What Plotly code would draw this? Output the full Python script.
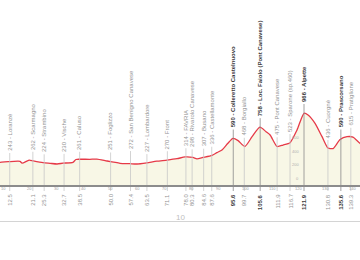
import plotly.graph_objects as go

# ---- data ----
profile_km = [5, 8.9, 11.9, 16.3, 17.1, 19.7, 21.2, 24.9, 27.5, 30.1, 32.3, 36.0, 37.1, 38.3,
              42.3, 44.9, 48.7, 52.4, 53.5, 57.2, 59.8, 63.5, 67.2, 71.0, 74.7, 77.7, 80.6,
              82.1, 84.3, 87.7, 89.5, 91.4, 93.6, 95.5, 97.4, 99.9, 102.6, 105.5, 107.8,
              109.3, 111.9, 114.1, 116.7, 119.3, 121.9, 123.4, 126.0, 128.6, 130.8, 132.7,
              135.3, 137.9, 140.1, 142.7, 146]
profile_elev = [240, 239, 248, 254, 226, 272, 260, 234, 224, 214, 226, 239, 280, 284,
                283, 286, 258, 233, 224, 218, 214, 232, 256, 272, 292, 318, 310,
                290, 310, 342, 381, 420, 519, 592, 558, 472, 617, 757, 690,
                642, 472, 494, 528, 715, 962, 937, 814, 617, 450, 442,
                575, 617, 610, 519, 430]

poi_km = [12.5, 21.1, 25.3, 32.7, 38.5, 50.0, 57.4, 63.5, 71.1, 78.0, 80.3, 84.6, 87.6,
          95.6, 99.7, 105.6, 111.9, 116.7, 121.9, 130.8, 135.6, 139.3]
poi_km_label = ["12.5", "21.1", "25.3", "32.7", "38.5", "50.0", "57.4", "63.5", "71.1",
                "78.0", "80.3", "84.6", "87.6", "95.6", "99.7", "105.6", "111.9", "116.7",
                "121.9", "130.8", "135.6", "139.3"]
poi_elev = [243, 262, 224, 230, 261, 251, 272, 227, 270, 314, 298, 307, 336,
            590, 468, 758, 475, 523, 966, 436, 590, 615]
poi_name = ["Loranzè", "Scarmagno", "Strambino", "Vische", "Caluso", "Foglizzo",
            "San Benigno Canavese", "Lombardore", "Front", "FAVRIA", "Rivarolo Canavese",
            "Busano", "Castellamonte", "Colleretto Castelnuovo", "Borgiallo",
            "Loc. Faiolo (Pont Canavese)", "Pont Canavese", "Sparone (sp.460)", "Alpette",
            "Cuorgnè", "Prascorsano", "Pratiglione"]
poi_major = [False, False, False, False, False, False, False, False, False, False, False,
             False, False, True, False, True, False, False, True, False, True, False]

km_ticks = [10, 20, 30, 40, 50, 60, 70, 80, 90, 100, 110, 120, 130, 140]
alt_ticks = [0, 200, 400, 600]
alt_scale_km = 120.9
stage_label = "10"

# ---- geometry of the drawing ----
W, H = 360, 260
Y0_PX = 178.5          # pixel row of 0 m
PX_PER_M = 0.0678
KM0_PX = -23.9
PX_PER_KM = 2.69


def y_of_px(py):
    return (Y0_PX - py) / PX_PER_M


def x_of_px(px):
    return (px - KM0_PX) / PX_PER_KM


base_elev = y_of_px(186)
base = [base_elev for _ in profile_km]

fig = go.Figure()
fig.add_trace(go.Scatter(x=profile_km, y=base, mode="lines",
                         line=dict(width=0, color="rgba(0,0,0,0)"),
                         hoverinfo="skip", showlegend=False))
fig.add_trace(go.Scatter(x=profile_km, y=profile_elev, mode="lines",
                         fill="tonexty", fillcolor="#f8f7e6",
                         line=dict(color="#e63a48", width=1.3, shape="spline", smoothing=0.6),
                         showlegend=False))

shapes = []
annots = []
label_gap = 9 / PX_PER_M
FONT = "Liberation Sans Narrow, Arial Narrow, sans-serif"
for km, el, name, lab, major in zip(poi_km, poi_elev, poi_name, poi_km_label, poi_major):
    lc = "#8a8a8a" if major else "#c8c8c8"
    shapes.append(dict(type="line", xref="x", yref="y", x0=km, x1=km,
                       y0=y_of_px(191), y1=el + label_gap,
                       line=dict(color=lc, width=0.8), layer="above"))
    fc = "#3a3a3a" if major else "#939393"
    txt = f"{el} - {name}"
    lb = lab
    if major:
        txt = f"<b>{txt}</b>"
        lb = f"<b>{lb}</b>"
    annots.append(dict(x=km, y=el + label_gap, xref="x", yref="y", text=txt,
                       textangle=-90, showarrow=False, xanchor="center", yanchor="bottom",
                       font=dict(size=6, color=fc, family=FONT)))
    annots.append(dict(x=km, y=y_of_px(192), xref="x", yref="y", text=lb,
                       textangle=-90, showarrow=False, xanchor="center", yanchor="top",
                       font=dict(size=6, color=fc, family=FONT)))

for t in km_ticks:
    annots.append(dict(x=t, y=y_of_px(188.5), xref="x", yref="y", text=str(t),
                       showarrow=False, xanchor="center", yanchor="middle",
                       font=dict(size=4, color="#a0a0a0", family=FONT)))

for a in alt_ticks:
    annots.append(dict(x=alt_scale_km, y=a, xref="x", yref="y", text=str(a),
                       showarrow=False, xanchor="right", yanchor="middle",
                       font=dict(size=4, color="#b0b0b0", family=FONT)))

# baseline
shapes.append(dict(type="line", xref="paper", yref="y", x0=0, x1=1, y0=base_elev, y1=base_elev,
                   line=dict(color="#8c8c8c", width=2), layer="above"))
# bottom rule
shapes.append(dict(type="line", xref="paper", yref="y", x0=0, x1=1,
                   y0=y_of_px(221.5), y1=y_of_px(221.5),
                   line=dict(color="#d4d4d4", width=1)))
annots.append(dict(x=x_of_px(180), y=y_of_px(217), xref="x", yref="y", text=stage_label,
                   showarrow=False, xanchor="center", yanchor="middle",
                   font=dict(size=8, color="#c0c0c0", family="Liberation Sans, sans-serif")))

fig.update_layout(
    width=W, height=H, margin=dict(l=0, r=0, t=0, b=0),
    paper_bgcolor="white", plot_bgcolor="white",
    xaxis=dict(range=[x_of_px(0), x_of_px(W)], visible=False, fixedrange=True),
    yaxis=dict(range=[y_of_px(H), y_of_px(0)], visible=False, fixedrange=True),
    shapes=shapes, annotations=annots, showlegend=False,
)

fig.write_html("out.html", config={"displayModeBar": False})
